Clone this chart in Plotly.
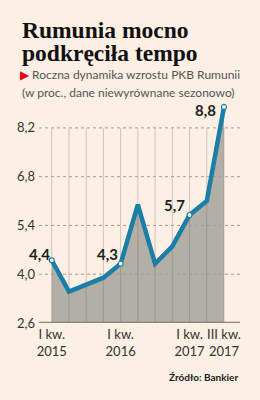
import plotly.graph_objects as go

# ---- data ----
quarters = ["I kw. 2015", "II kw. 2015", "III kw. 2015", "IV kw. 2015",
            "I kw. 2016", "II kw. 2016", "III kw. 2016", "IV kw. 2016",
            "I kw. 2017", "II kw. 2017", "III kw. 2017"]
gdp_growth = [4.4, 3.5, 3.7, 3.9, 4.3, 6.0, 4.3, 4.8, 5.7, 6.1, 8.8]
labeled_idx = [0, 4, 8, 10]
y_ticks = [2.6, 4.0, 5.4, 6.8, 8.2]
y_tick_text = ["2,6", "4,0", "5,4", "6,8", "8,2"]
x_tick_idx = [0, 4, 8, 10]
x_tick_text = ["I kw.<br>2015", "I kw.<br>2016", "I kw.<br>2017", "III kw.<br>2017"]

BG = "#fcefe3"
BLUE = "#1a7ea6"
FILL = "#b2afa7"

x = list(range(len(quarters)))
X_RANGE = [-0.74, 10.93]
Y_RANGE = [2.6, 9.0]

fig = go.Figure()

# area fill
fig.add_trace(go.Scatter(x=x, y=gdp_growth, mode="lines", line=dict(width=0, color=FILL),
                         fill="tozeroy", fillcolor=FILL, hoverinfo="skip", showlegend=False))

# vertical lines at each quarter (from bottom to top tick)
vx, vy = [], []
for i in x:
    vx += [i, i, None]
    vy += [y_ticks[0], y_ticks[-1], None]
fig.add_trace(go.Scatter(x=vx, y=vy, mode="lines",
                         line=dict(width=1, color="rgba(110,100,90,0.3)"),
                         hoverinfo="skip", showlegend=False))

# horizontal dotted gridlines
hx, hy = [], []
for t in y_ticks[1:]:
    hx += [X_RANGE[0], X_RANGE[1], None]
    hy += [t, t, None]
fig.add_trace(go.Scatter(x=hx, y=hy, mode="lines",
                         line=dict(width=1, color="#a59d94", dash="dot"),
                         hoverinfo="skip", showlegend=False))

# baseline axis line
fig.add_trace(go.Scatter(x=X_RANGE, y=[y_ticks[0], y_ticks[0]], mode="lines",
                         line=dict(width=2.5, color="#8c8378"),
                         hoverinfo="skip", showlegend=False))

# main line
fig.add_trace(go.Scatter(x=x, y=gdp_growth, mode="lines",
                         line=dict(width=4.5, color=BLUE),
                         hoverinfo="skip", showlegend=False))
# markers on labelled points
fig.add_trace(go.Scatter(x=[x[i] for i in labeled_idx], y=[gdp_growth[i] for i in labeled_idx],
                         mode="markers",
                         marker=dict(size=5, color="white", line=dict(width=1.2, color=BLUE)),
                         hoverinfo="skip", showlegend=False))

# value labels
offsets = {0: (-12, 6), 4: (-13, 10), 8: (-15, 10), 10: (-18, -3)}
for i in labeled_idx:
    dx, dy = offsets[i]
    fig.add_annotation(x=x[i], y=gdp_growth[i], text=f"{gdp_growth[i]:.1f}".replace(".", ","),
                       showarrow=False, xshift=dx, yshift=dy,
                       font=dict(family="Lato", size=15, color="#1e1e1e", weight="bold"))

# paper-coordinate helpers (plot area: x 39..240, y 100..323)
def px(xp):
    return (xp - 39) / 201.0

def py(yp):
    return (323 - yp) / 223.0

fig.add_annotation(xref="paper", yref="paper", x=px(20), y=py(30), xanchor="left", yanchor="middle",
                   text="<b>Rumunia mocno</b>", showarrow=False,
                   font=dict(family="Liberation Serif", size=23.5, color="#111"))
fig.add_annotation(xref="paper", yref="paper", x=px(20), y=py(53), xanchor="left", yanchor="middle",
                   text="<b>podkręciła tempo</b>", showarrow=False,
                   font=dict(family="Liberation Serif", size=23.5, color="#111"))
fig.add_annotation(xref="paper", yref="paper", x=px(18), y=py(74), xanchor="left", yanchor="middle",
                   text="<span style='color:#e2001a'>▶</span> Roczna dynamika wzrostu PKB Rumunii",
                   showarrow=False, font=dict(family="Lato", size=12, color="#555"))
fig.add_annotation(xref="paper", yref="paper", x=px(20), y=py(93), xanchor="left", yanchor="middle",
                   text="(w proc., dane niewyrównane sezonowo)",
                   showarrow=False, font=dict(family="Lato", size=12, color="#555"))
fig.add_annotation(xref="paper", yref="paper", x=px(240), y=py(377), xanchor="right", yanchor="middle",
                   text="<b>Źródło: Bankier</b>",
                   showarrow=False, font=dict(family="Lato", size=10, color="#222"))

fig.update_layout(
    width=260, height=400,
    margin=dict(l=39, r=20, t=100, b=77),
    paper_bgcolor=BG, plot_bgcolor=BG,
    xaxis=dict(range=X_RANGE, showgrid=False, zeroline=False, showline=False,
               tickmode="array", tickvals=x_tick_idx, ticktext=x_tick_text,
               ticks="", ticklabelstandoff=2,
               tickfont=dict(family="Lato", size=13, color="#333"), fixedrange=True),
    yaxis=dict(range=Y_RANGE, showgrid=False, zeroline=False, showline=False,
               tickmode="array", tickvals=y_ticks, ticktext=y_tick_text,
               ticks="", ticklabelstandoff=3,
               tickfont=dict(family="Lato", size=13, color="#333"), fixedrange=True),
    showlegend=False,
)

fig.write_html("out.html")
